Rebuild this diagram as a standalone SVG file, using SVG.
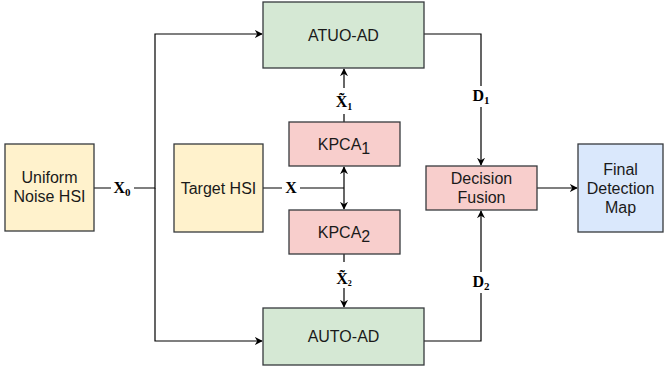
<svg xmlns="http://www.w3.org/2000/svg" width="664" height="381" viewBox="0 0 664 381">
<style>
.box{stroke:#36393d;stroke-width:1.3}
.yel{fill:#fff2cc}.grn{fill:#d5e8d4}.red{fill:#f8cecc}.blu{fill:#dae8fc}
.t{font-family:"Liberation Sans",Arial,sans-serif;font-size:16px;fill:#1a1a1a;text-anchor:middle}
.m{font-family:"Liberation Serif","Times New Roman",serif;font-size:16px;font-weight:bold;fill:#000;text-anchor:middle}
.e{fill:none;stroke:#000;stroke-width:1.2}
.bg{fill:#fff}
</style>
<defs>
<marker id="a" viewBox="0 0 10 10" refX="9" refY="5" markerWidth="8" markerHeight="8" markerUnits="userSpaceOnUse" orient="auto">
<path d="M0,0 L10,5 L0,10 L3,5 z" fill="#000"/>
</marker>
</defs>
<rect width="664" height="381" fill="#fff"/>
<g id="connectors">
<path class="e" d="M94,188 H155 V34 H262" marker-end="url(#a)"/>
<path class="e" d="M155,188 V341 H262" marker-end="url(#a)"/>
<path class="e" d="M263,188 H344"/>
<path class="e" d="M344,188 V167" marker-end="url(#a)"/>
<path class="e" d="M344,188 V209" marker-end="url(#a)"/>
<path class="e" d="M344,122 V69" marker-end="url(#a)"/>
<path class="e" d="M344,254 V307" marker-end="url(#a)"/>
<path class="e" d="M424,34 H481 V165" marker-end="url(#a)"/>
<path class="e" d="M424,341 H481 V211" marker-end="url(#a)"/>
<path class="e" d="M537,188 H577" marker-end="url(#a)"/>
<rect class="bg" x="111" y="177" width="23" height="21"/>
<text class="m" x="122" y="193">X<tspan font-size="11" dy="3">0</tspan></text>
<rect class="bg" x="282" y="178" width="18" height="20"/>
<text class="m" x="291" y="193">X</text>
<rect class="bg" x="333" y="88" width="22" height="26"/>
<text class="m" x="344" y="107">X&#x0303;<tspan font-size="10" dy="3">1</tspan></text>
<rect class="bg" x="333" y="262" width="22" height="26"/>
<text class="m" x="344" y="284">X&#x0303;<tspan font-size="8" dy="2">2</tspan></text>
<rect class="bg" x="469" y="86" width="24" height="21"/>
<text class="m" x="481" y="101">D<tspan font-size="11" dy="3">1</tspan></text>
<rect class="bg" x="469" y="272" width="24" height="21"/>
<text class="m" x="481" y="287">D<tspan font-size="11" dy="3">2</tspan></text>
</g>
<g id="uniform">
<rect class="box yel" x="5" y="144" width="89" height="87"/>
<text class="t" x="49.5" y="183">Uniform</text>
<text class="t" x="49.5" y="202">Noise HSI</text>
</g>
<g id="target">
<rect class="box yel" x="174" y="144" width="89" height="88"/>
<text class="t" x="218.5" y="194">Target HSI</text>
</g>
<g id="atuo">
<rect class="box grn" x="263" y="2" width="161" height="66"/>
<text class="t" x="343.5" y="41">ATUO-AD</text>
</g>
<g id="auto">
<rect class="box grn" x="263" y="308" width="161" height="57"/>
<text class="t" x="343.5" y="342">AUTO-AD</text>
</g>
<g id="kpca1">
<rect class="box red" x="289" y="122" width="111" height="44"/>
<text class="t" x="344" y="150">KPCA<tspan dy="4">1</tspan></text>
</g>
<g id="kpca2">
<rect class="box red" x="289" y="210" width="111" height="44"/>
<text class="t" x="344" y="238">KPCA<tspan dy="4">2</tspan></text>
</g>
<g id="fusion">
<rect class="box red" x="426" y="166" width="111" height="44"/>
<text class="t" x="481.5" y="184">Decision</text>
<text class="t" x="481.5" y="203">Fusion</text>
</g>
<g id="final">
<rect class="box blu" x="578" y="144" width="85" height="88"/>
<text class="t" x="620.5" y="175">Final</text>
<text class="t" x="620.5" y="194">Detection</text>
<text class="t" x="620.5" y="213">Map</text>
</g>
</svg>
